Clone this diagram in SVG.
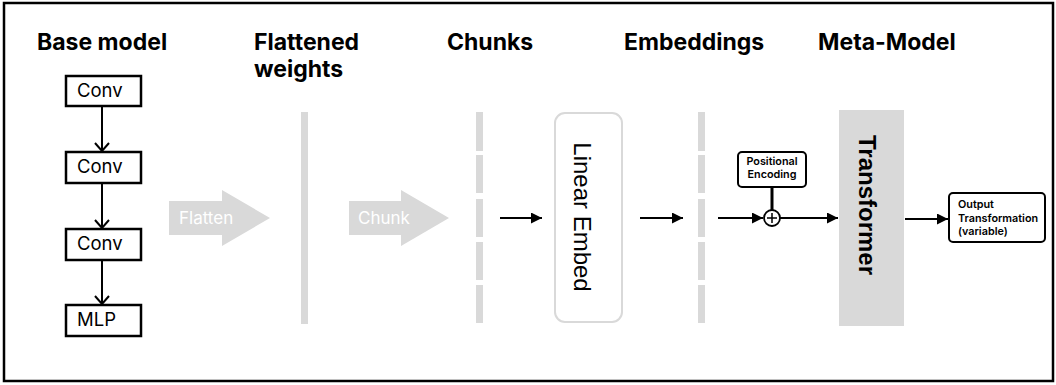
<svg xmlns="http://www.w3.org/2000/svg" width="1056" height="385" viewBox="0 0 1056 385">
<defs>
<style>
.title{font-family:Inter,"Liberation Sans",sans-serif;font-weight:700;font-size:23px;fill:#000}
.box{fill:#fff;stroke:#000;stroke-width:2.5}
.lbl{font-family:Inter,"Liberation Sans",sans-serif;font-size:18.5px;fill:#000}
.gray{fill:#d9d9d9}
.arrtxt{font-family:Inter,"Liberation Sans",sans-serif;font-size:17px;fill:#fff}
.small{font-family:Inter,"Liberation Sans",sans-serif;font-weight:600;font-size:10.8px;fill:#000}
.conn{stroke:#000;stroke-width:2;fill:none}
</style>
<marker id="open" viewBox="0 0 10 16" refX="9" refY="8" markerWidth="10" markerHeight="16" markerUnits="userSpaceOnUse" orient="auto">
<path d="M1,1 L9,8 L1,15" fill="none" stroke="#000" stroke-width="2"/>
</marker>
<marker id="fill" viewBox="0 0 10 10" refX="10" refY="5" markerWidth="11" markerHeight="11" markerUnits="userSpaceOnUse" orient="auto">
<path d="M0,0 L10,5 L0,10 Z" fill="#000"/>
</marker>
</defs>
<rect x="4" y="3" width="1049" height="378" fill="#fff" stroke="#000" stroke-width="2.5"/>

<g id="titles">
<text class="title" x="37" y="50">Base model</text>
<text class="title" x="254" y="50">Flattened</text>
<text class="title" x="254" y="77">weights</text>
<text class="title" x="447" y="50">Chunks</text>
<text class="title" x="624" y="50">Embeddings</text>
<text class="title" x="818" y="50">Meta-Model</text>
</g>

<g id="conv1"><rect class="box" x="66" y="76" width="75" height="30"/><text class="lbl" x="77" y="97">Conv</text></g>
<g id="conv2"><rect class="box" x="66" y="152" width="75" height="31"/><text class="lbl" x="77" y="173">Conv</text></g>
<g id="conv3"><rect class="box" x="66" y="229" width="75" height="31"/><text class="lbl" x="77" y="250">Conv</text></g>
<g id="mlp"><rect class="box" x="66" y="305" width="75" height="31"/><text class="lbl" x="77" y="326">MLP</text></g>

<g id="flatten">
<path class="gray" d="M169,201 L222,201 L222,190 L270,218 L222,246 L222,235 L169,235 Z"/>
<text class="arrtxt" x="179" y="224">Flatten</text>
</g>
<g id="flattened-weights"><rect class="gray" x="301" y="112" width="7" height="212"/></g>

<g id="chunk">
<path class="gray" d="M349,201 L401,201 L401,190 L449,218 L401,246 L401,235 L349,235 Z"/>
<text class="arrtxt" x="358" y="224">Chunk</text>
</g>
<g id="chunks">
<rect class="gray" x="476" y="112" width="7" height="39"/>
<rect class="gray" x="476" y="155" width="7" height="38"/>
<rect class="gray" x="476" y="199" width="7" height="38"/>
<rect class="gray" x="476" y="242" width="7" height="38"/>
<rect class="gray" x="476" y="285" width="7" height="38"/>
</g>

<g id="linear-embed">
<rect x="555" y="113" width="67" height="209" rx="10" fill="#fff" stroke="#d9d9d9" stroke-width="2"/>
<text x="582" y="217" transform="rotate(90 582 217)" text-anchor="middle" dominant-baseline="central" font-family="'Liberation Sans',Arial,sans-serif" font-size="24">Linear Embed</text>
</g>

<g id="embeddings">
<rect class="gray" x="698" y="112" width="7" height="39"/>
<rect class="gray" x="698" y="155" width="7" height="38"/>
<rect class="gray" x="698" y="199" width="7" height="38"/>
<rect class="gray" x="698" y="242" width="7" height="38"/>
<rect class="gray" x="698" y="285" width="7" height="38"/>
</g>

<g id="positional-encoding">
<rect x="738" y="152" width="68" height="35" rx="4" fill="#fff" stroke="#000" stroke-width="2"/>
<text class="small" x="772" y="165" text-anchor="middle">Positional</text>
<text class="small" x="772" y="178" text-anchor="middle">Encoding</text>
</g>

<g id="plus">
<circle cx="772" cy="218" r="8" fill="#fff" stroke="#000" stroke-width="1.8"/>
<path d="M767,218 H777 M772,213 V223" stroke="#000" stroke-width="1.5"/>
</g>

<g id="transformer">
<rect class="gray" x="839" y="110" width="65" height="216"/>
<text x="867" y="205" transform="rotate(90 867 205)" text-anchor="middle" dominant-baseline="central" font-family="'Liberation Sans',Arial,sans-serif" font-weight="700" font-size="24">Transformer</text>
</g>

<g id="output">
<rect x="949" y="193" width="96" height="49" rx="4" fill="#fff" stroke="#000" stroke-width="2"/>
<text class="small" x="958" y="208">Output</text>
<text class="small" x="958" y="222">Transformation</text>
<text class="small" x="958" y="235">(variable)</text>
</g>

<g id="connectors">
<line class="conn" x1="102" y1="106" x2="102" y2="151" marker-end="url(#open)"/>
<line class="conn" x1="102" y1="183" x2="102" y2="228" marker-end="url(#open)"/>
<line class="conn" x1="102" y1="260" x2="102" y2="304" marker-end="url(#open)"/>
<line class="conn" x1="500" y1="218" x2="542" y2="218" marker-end="url(#fill)"/>
<line class="conn" x1="640" y1="218" x2="683" y2="218" marker-end="url(#fill)"/>
<line class="conn" x1="718" y1="218" x2="763" y2="218" marker-end="url(#fill)"/>
<line x1="772" y1="187" x2="772" y2="210" stroke="#000" stroke-width="3"/>
<line class="conn" x1="780" y1="218" x2="838" y2="218" marker-end="url(#fill)"/>
<line class="conn" x1="905" y1="219" x2="948" y2="219" marker-end="url(#fill)"/>
</g>
</svg>
